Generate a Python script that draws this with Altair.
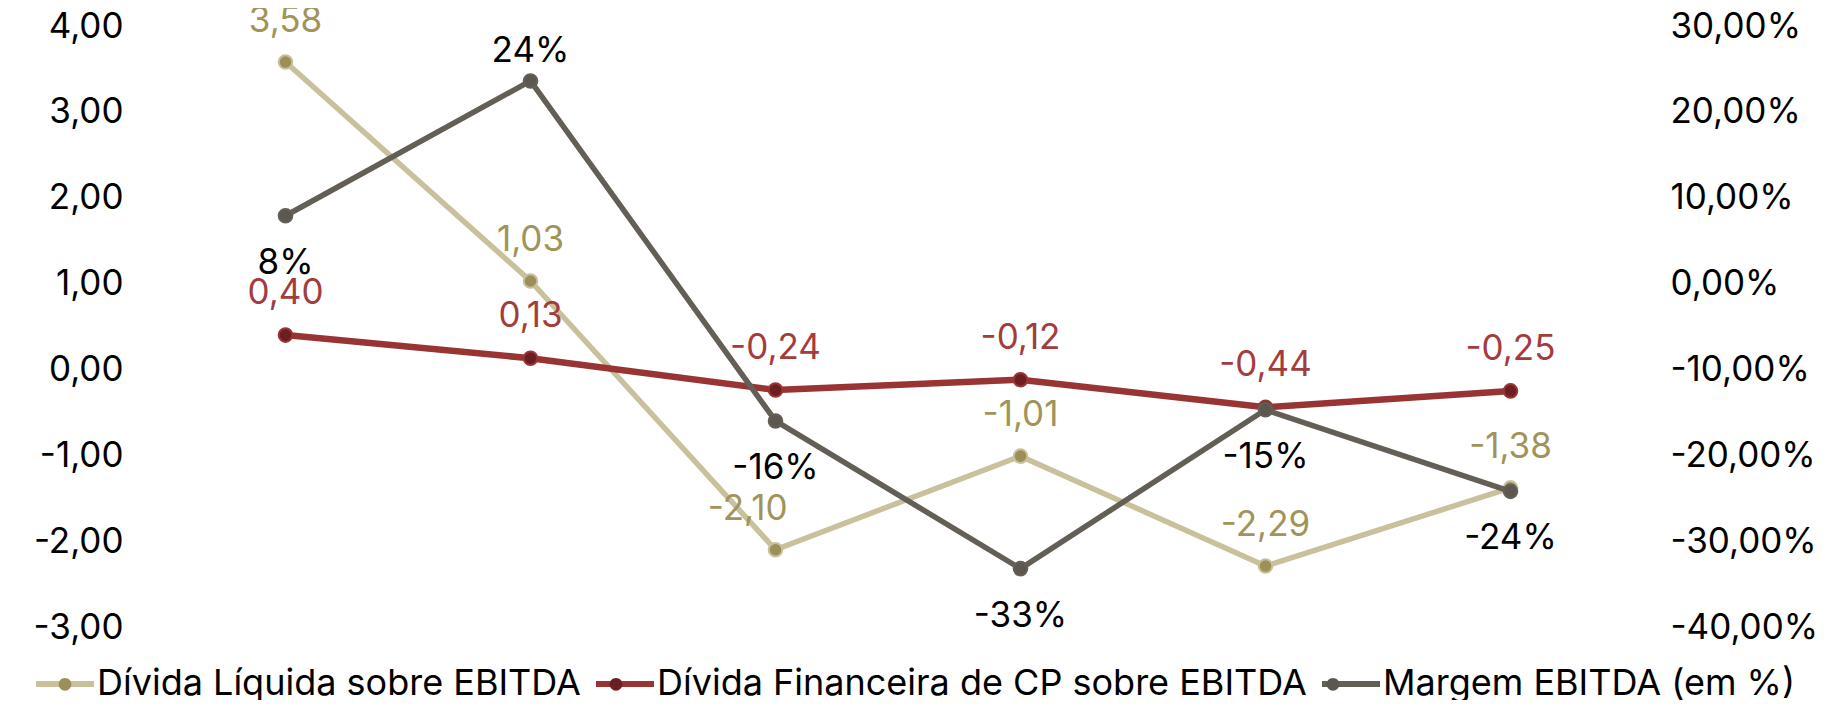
import altair as alt
import pandas as pd

# ---- data ----
periodos = ["P1", "P2", "P3", "P4", "P5", "P6"]
divida_liquida = [3.58, 1.03, -2.10, -1.01, -2.29, -1.38]
divida_cp = [0.40, 0.13, -0.24, -0.12, -0.44, -0.25]
margem = [0.079, 0.236, -0.16, -0.332, -0.147, -0.242]

series = [
    "Dívida Líquida sobre EBITDA",
    "Dívida Financeira de CP sobre EBITDA",
    "Margem EBITDA (em %)",
]
left_ticks = [-3, -2, -1, 0, 1, 2, 3, 4]
right_ticks = [-0.4, -0.3, -0.2, -0.1, 0.0, 0.1, 0.2, 0.3]

line_colors = ["#C9C09C", "#993434", "#645F56"]
marker_colors = ["#9C9058", "#6C1F23", "#5C584F"]
label_colors = ["#A09459", "#A33C3C", "#000000"]

FONT = "Inter"
FS = 35
LFS = 36

# marker series keys (distinct from line keys so the two legends stay separate)
series_pt = [s + " " for s in series]


def fmt_num(v):
    return f"{v:.2f}".replace(".", ",")


rows = []
for p, a, b in zip(periodos, divida_liquida, divida_cp):
    rows.append({"periodo": p, "serie": series[0], "serie_pt": series_pt[0], "valor": a, "rotulo": fmt_num(a)})
    rows.append({"periodo": p, "serie": series[1], "serie_pt": series_pt[1], "valor": b, "rotulo": fmt_num(b)})
df_left = pd.DataFrame(rows)

df_right = pd.DataFrame({
    "periodo": periodos,
    "serie": [series[2]] * len(periodos),
    "serie_pt": [series_pt[2]] * len(periodos),
    "valor": margem,
    "rotulo": [f"{round(v * 100)}%" for v in margem],
})

x_enc = alt.X("periodo:N", sort=periodos, axis=None,
              scale=alt.Scale(type="point", padding=0.5))

y_left = alt.Y(
    "valor:Q",
    scale=alt.Scale(domain=[-3, 4], nice=False, zero=False),
    axis=alt.Axis(
        orient="left", title=None, values=left_ticks, grid=False, domain=False,
        ticks=False, tickSize=0, labelPadding=40, labelFont=FONT, labelFontSize=FS,
        labelColor="#000000",
        labelExpr="replace(replace(format(datum.value, '.2f'), '.', ','), '\u2212', '-')",
    ),
)
y_right = alt.Y(
    "valor:Q",
    scale=alt.Scale(domain=[-0.4, 0.3], nice=False, zero=False),
    axis=alt.Axis(
        orient="right", title=None, values=right_ticks, grid=False, domain=False,
        ticks=False, tickSize=0, labelPadding=37, labelFont=FONT, labelFontSize=FS,
        labelColor="#000000",
        labelExpr="replace(replace(format(datum.value, '.2%'), '.', ','), '\u2212', '-')",
    ),
)

common_legend = dict(
    title=None, orient="none", legendX=-130, legendY=626, direction="horizontal",
    symbolSize=3364, symbolStrokeWidth=6, symbolOpacity=1,
    labelFont=FONT, labelFontSize=LFS, labelColor="#000000", labelLimit=1000,
    labelOffset=0, columnPadding=3,
)

stroke_enc = alt.Stroke(
    "serie:N",
    scale=alt.Scale(domain=series, range=line_colors),
    legend=alt.Legend(symbolType="M-1,0L1,0", zindex=1, **common_legend),
)
fill_enc = alt.Fill(
    "serie_pt:N",
    scale=alt.Scale(domain=series_pt, range=marker_colors),
    legend=alt.Legend(
        symbolType="M-0.22,0A0.22,0.22,0,1,0,0.22,0A0.22,0.22,0,1,0,-0.22,0",
        symbolStrokeColor="transparent", labelOpacity=0, zindex=2, **common_legend
    ),
)

line_kw = dict(strokeCap="round", strokeJoin="round")
pt_kw = dict(size=185, strokeWidth=2, opacity=1)

# ---- left axis series ----
base_l = alt.Chart(df_left)
line_liq = base_l.transform_filter(alt.datum.serie == series[0]).mark_line(
    strokeWidth=5.5, **line_kw).encode(x=x_enc, y=y_left, stroke=stroke_enc)
line_cp = base_l.transform_filter(alt.datum.serie == series[1]).mark_line(
    strokeWidth=6.5, **line_kw).encode(x=x_enc, y=y_left, stroke=stroke_enc)
pts_l = base_l.mark_circle(**pt_kw).encode(
    x=x_enc, y=y_left, stroke=stroke_enc, fill=fill_enc)

txt_kw = dict(font=FONT, fontSize=FS, baseline="alphabetic")
t_liq = base_l.transform_filter(
    (alt.datum.serie == series[0]) & (alt.datum.periodo != "P3")
).mark_text(color=label_colors[0], dy=-30, align="center", **txt_kw).encode(
    x=x_enc, y=y_left, text="rotulo:N")
t_liq3 = base_l.transform_filter(
    (alt.datum.serie == series[0]) & (alt.datum.periodo == "P3")
).mark_text(color=label_colors[0], dy=-30, dx=12, align="right", **txt_kw).encode(
    x=x_enc, y=y_left, text="rotulo:N")
t_cp = base_l.transform_filter(alt.datum.serie == series[1]).mark_text(
    color=label_colors[1], dy=-31, align="center", **txt_kw).encode(
    x=x_enc, y=y_left, text="rotulo:N")

left = alt.layer(line_liq, line_cp, pts_l, t_liq, t_liq3, t_cp)

# ---- right axis series ----
base_r = alt.Chart(df_right)
line_r = base_r.mark_line(strokeWidth=5.5, **line_kw).encode(
    x=x_enc, y=y_right, stroke=stroke_enc)
pts_r = base_r.mark_circle(**pt_kw).encode(
    x=x_enc, y=y_right, stroke=stroke_enc, fill=fill_enc)
t_m_up = base_r.transform_filter(alt.datum.periodo == "P2").mark_text(
    color=label_colors[2], dy=-19, align="center", **txt_kw).encode(
    x=x_enc, y=y_right, text="rotulo:N")
t_m_dn = base_r.transform_filter(alt.datum.periodo != "P2").mark_text(
    color=label_colors[2], dy=58, align="center", **txt_kw).encode(
    x=x_enc, y=y_right, text="rotulo:N")

right = alt.layer(line_r, pts_r, t_m_up, t_m_dn)

chart = (
    alt.layer(left, right)
    .resolve_scale(y="independent")
    .properties(
        width=1470, height=601,
        padding={"left": 155, "top": 18, "right": 200, "bottom": 73},
        autosize=alt.AutoSizeParams(type="none"),
        background="#ffffff",
    )
    .configure_view(strokeWidth=0)
)

chart.save("out.html", embed_options={"renderer": "svg", "actions": False})
